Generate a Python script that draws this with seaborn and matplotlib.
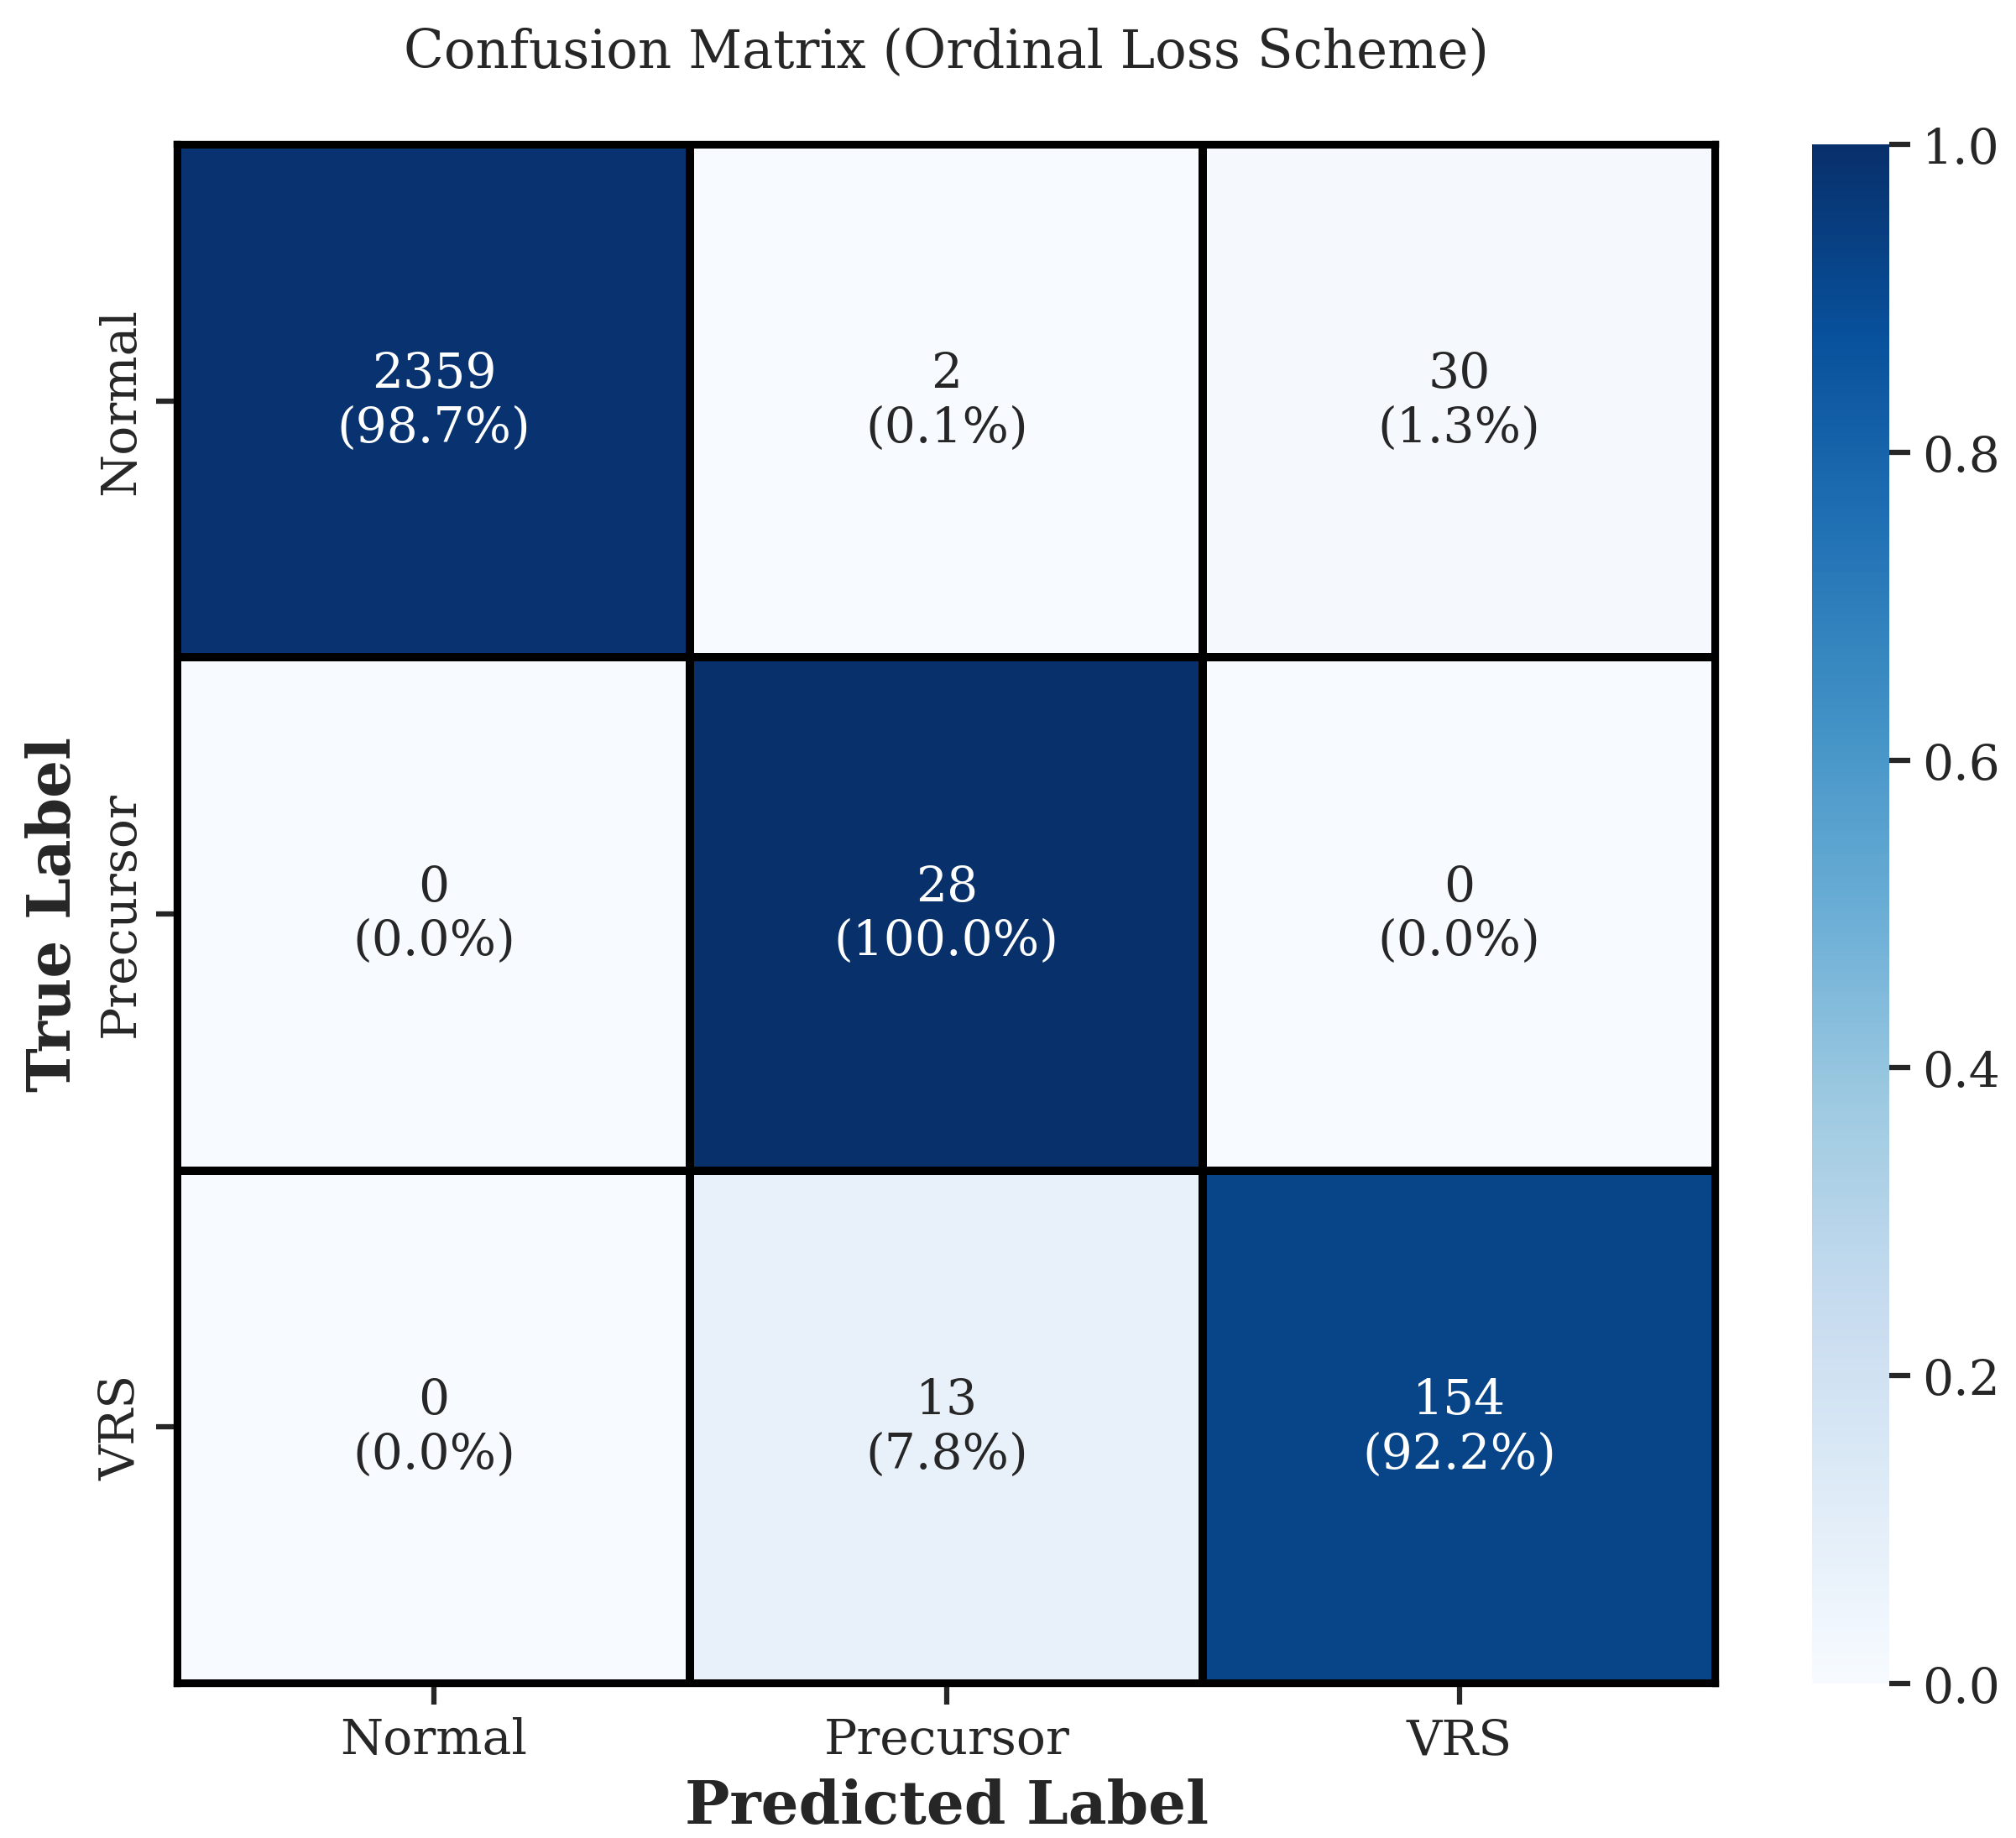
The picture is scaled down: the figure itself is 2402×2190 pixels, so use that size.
import numpy as np
import matplotlib
matplotlib.use("Agg")
import matplotlib.pyplot as plt
import seaborn as sns

classes = ["Normal", "Precursor", "VRS"]
counts = np.array([[2359, 2, 30],
                   [0, 28, 0],
                   [0, 13, 154]])

sns.set_style("white")
plt.rcParams['font.family'] = ['DejaVu Serif']

row_frac = counts / counts.sum(axis=1, keepdims=True)
annot = np.array([[f"{counts[i, j]}\n({row_frac[i, j]*100:.1f}%)" for j in range(3)] for i in range(3)])

fig = plt.figure(figsize=(8.007, 7.303), dpi=300)
ax = fig.add_axes([0.088, 0.084, 0.763, 0.837])
cax = fig.add_axes([0.899, 0.084, 0.038, 0.837])

sns.heatmap(row_frac, annot=annot, fmt="", cmap="Blues", vmin=0, vmax=1,
            linewidths=2, linecolor="black", ax=ax, cbar_ax=cax,
            xticklabels=classes, yticklabels=classes,
            annot_kws={"fontsize": 14})

for s in ax.spines.values():
    s.set_visible(True)
    s.set_linewidth(2)
    s.set_color("black")
cax.tick_params(labelsize=14, width=1.5, length=6)
for s in cax.spines.values():
    s.set_visible(False)

ax.tick_params(labelsize=14, width=1.5, length=6, bottom=True, left=True)
ax.set_xlabel("Predicted Label", fontsize=17, fontweight="bold")
ax.set_ylabel("True Label", fontsize=17, fontweight="bold")
ax.set_title("Confusion Matrix (Ordinal Loss Scheme)", fontsize=15, pad=22)

fig.savefig("out.png", dpi=300)
